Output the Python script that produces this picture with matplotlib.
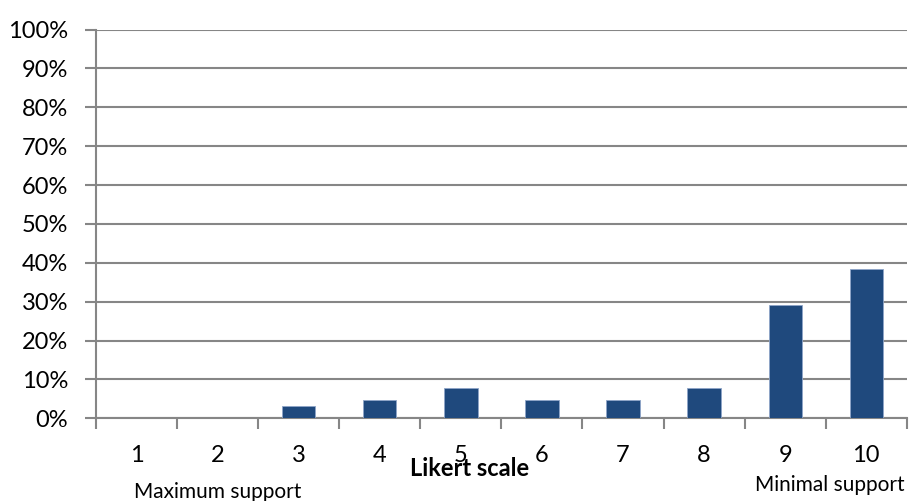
import matplotlib
matplotlib.use("Agg")
import matplotlib.pyplot as plt
import numpy as np

# Share of responses per Likert point (n = 65)
categories = ["1", "2", "3", "4", "5", "6", "7", "8", "9", "10"]
shares = [0.0, 0.0, 3.1, 4.6, 7.7, 4.6, 4.6, 7.7, 29.2, 38.5]
yticks = [0, 10, 20, 30, 40, 50, 60, 70, 80, 90, 100]

BAR = "#1F497D"
GRID = "#868686"

plt.rcParams["font.family"] = ["Lato", "DejaVu Sans"]

fig = plt.figure(figsize=(9.15, 5.01), dpi=100)
ax = fig.add_axes([0.105, 0.165, 0.886, 0.776])

x = np.arange(len(categories))
ax.bar(x, shares, width=0.41, color=BAR, edgecolor="#8EA5C8", linewidth=0.6, zorder=3)

ax.set_xlim(-0.5, len(categories) - 0.5)
ax.set_ylim(0, 100)
ax.set_yticks(yticks)
ax.set_yticklabels([f"{v}%" for v in yticks], fontsize=17)
ax.yaxis.grid(True, color=GRID, linewidth=1.5, zorder=0)

# category labels sit between the boundary ticks
ax.set_xticks(x)
ax.set_xticklabels(categories, fontsize=17)
ax.tick_params(axis="x", length=0, pad=19)
ax.set_xticks(np.arange(len(categories) + 1) - 0.5, minor=True)
ax.tick_params(axis="x", which="minor", length=8, width=1.5, color=GRID)
ax.tick_params(axis="y", length=8, width=1.5, color=GRID, pad=12)

for side in ["top", "right"]:
    ax.spines[side].set_visible(False)
ax.spines["left"].set_color(GRID)
ax.spines["left"].set_linewidth(1.5)
ax.spines["bottom"].set_color(GRID)
ax.spines["bottom"].set_linewidth(1.5)

fig.text(470 / 915, 1 - 468 / 501, "Likert scale", ha="center", va="center",
         fontsize=17, fontweight="bold")
fig.text(218 / 915, 1 - 492 / 501, "Maximum support", ha="center", va="center", fontsize=15)
fig.text(830 / 915, 1 - 485 / 501, "Minimal support", ha="center", va="center", fontsize=15)

fig.savefig("out.png", dpi=100, facecolor="white")
